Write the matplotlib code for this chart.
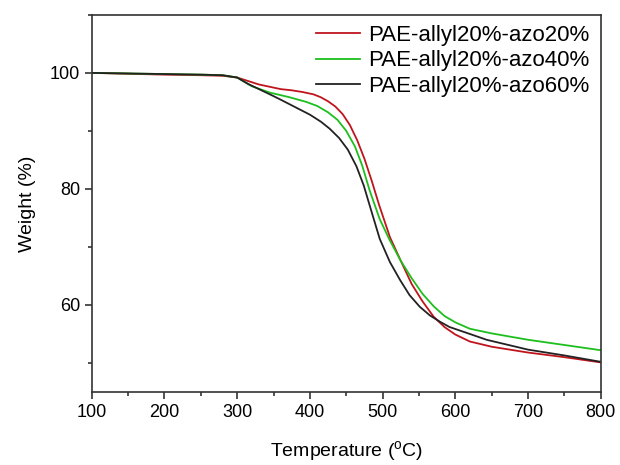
import matplotlib
matplotlib.use("Agg")
import matplotlib.pyplot as plt
from matplotlib.ticker import MultipleLocator

plt.rcParams['font.family'] = ['Liberation Sans', 'DejaVu Sans']

labels = ["PAE-allyl20%-azo20%", "PAE-allyl20%-azo40%", "PAE-allyl20%-azo60%"]
colors = ["#c0141c", "#1dbf1d", "#222222"]

t_red = [100, 150, 200, 250, 280, 300, 315, 330, 345, 360, 375, 390, 405, 415, 425, 435, 445, 455,
         465, 475, 485, 495, 510, 525, 540, 555, 570, 585, 600, 620, 650, 700, 750, 800]
w_red = [100, 99.85, 99.7, 99.6, 99.5, 99.2, 98.6, 98.0, 97.6, 97.2, 97.0, 96.7, 96.3, 95.8, 95.1, 94.2, 92.9, 91.0,
         88.4, 85.2, 81.4, 77.3, 71.7, 67.6, 63.6, 60.6, 58.0, 56.2, 54.9, 53.7, 52.8, 51.8, 51.0, 50.1]

t_green = [100, 150, 200, 250, 280, 300, 320, 345, 372, 395, 410, 425, 438, 450, 462, 472, 482, 496,
           510, 525, 540, 555, 570, 585, 600, 620, 650, 700, 750, 800]
w_green = [100, 99.9, 99.8, 99.7, 99.6, 99.2, 97.7, 96.6, 95.8, 95.0, 94.3, 93.2, 91.9, 90.0, 87.3, 84.0, 79.8, 74.8,
           71.1, 67.6, 64.6, 61.9, 59.8, 58.1, 57.0, 55.9, 55.1, 54.0, 53.1, 52.2]

t_black = [100, 150, 200, 250, 280, 300, 315, 330, 345, 358, 372, 386, 400, 415, 427, 440, 452, 464, 474, 484,
           496, 510, 524, 537, 551, 565, 579, 592, 620, 643, 700, 750, 800]
w_black = [100, 99.9, 99.8, 99.7, 99.6, 99.2, 98.1, 97.2, 96.3, 95.5, 94.6, 93.7, 92.8, 91.6, 90.4, 88.8, 86.8, 83.9, 80.6, 76.4,
           71.4, 67.4, 64.3, 61.7, 59.7, 58.2, 57.1, 56.2, 55.0, 54.0, 52.3, 51.3, 50.2]

fig = plt.figure(figsize=(6.2, 4.65), dpi=100)
ax = fig.add_axes([0.148, 0.157, 0.821, 0.811])

for t, w, c, lab in zip([t_red, t_green, t_black], [w_red, w_green, w_black], colors, labels):
    ax.plot(t, w, color=c, lw=1.3, label=lab)

ax.set_xlim(100, 800)
ax.set_ylim(45, 110)
ax.xaxis.set_major_locator(MultipleLocator(100))
ax.xaxis.set_minor_locator(MultipleLocator(50))
ax.yaxis.set_minor_locator(MultipleLocator(10))
ax.set_yticks([60, 80, 100])
ax.tick_params(which='both', direction='out', top=False, right=False, labelsize=13, colors='#333333', labelcolor='black')
ax.tick_params(which='major', length=5, width=1.2)
ax.tick_params(which='minor', length=3, width=1.2)
for s in ax.spines.values():
    s.set_linewidth(1.2)
    s.set_color('#333333')

ax.set_xlabel("Temperature ($\\mathregular{^{o}}$C)", fontsize=14, labelpad=13)
ax.set_ylabel("Weight (%)", fontsize=14, labelpad=10)

leg = ax.legend(loc='upper right', frameon=False, fontsize=16, handlelength=2.0,
                handletextpad=0.35, labelspacing=0.2, borderaxespad=0.05, bbox_to_anchor=(0.997, 1.0))

fig.savefig("out.png", dpi=100)
